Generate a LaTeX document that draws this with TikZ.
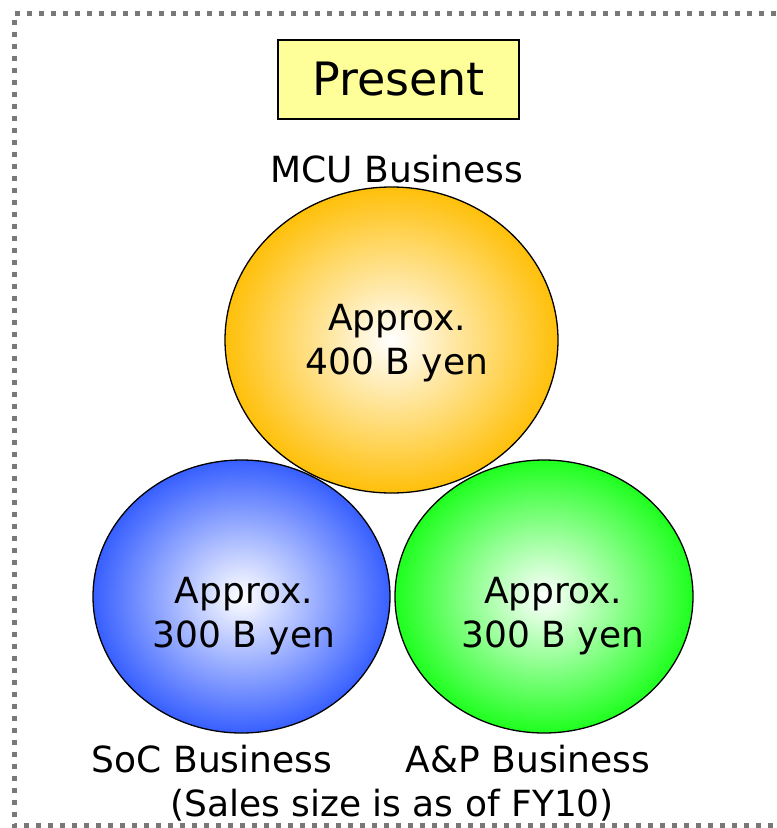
\documentclass[tikz,border=0pt]{standalone}
\usepackage{fontspec}
\setmainfont{DejaVu Sans}
\usetikzlibrary{positioning,shapes.geometric}
\definecolor{mcugold}{RGB}{255,192,10}
\definecolor{socblue}{RGB}{55,95,255}
\definecolor{apgreen}{RGB}{30,255,30}
\definecolor{titleyellow}{RGB}{255,255,153}
\definecolor{framegray}{RGB}{120,120,120}
\tikzset{
	bigtext/.style={
		font=\fontsize{36}{44}\selectfont,
		align=center,
		inner sep=0pt
	},
	bizcircle/.style={
		ellipse,
		draw=black,
		line width=1.3pt,
		shading=radial,
		inner color=white
	},
	titlebox/.style={
		draw=black,
		line width=2pt,
		fill=titleyellow,
		minimum width=241pt,
		minimum height=79pt,
		font=\fontsize{46}{55}\selectfont
	}
}
\begin{document}
\begin{tikzpicture}[x=1pt,y=-1pt]
	\useasboundingbox (0,0) rectangle (777,828);
	
	% Dotted frame
	\draw[framegray,line width=5pt,dash pattern=on 5pt off 7pt]
	(800,13.5) -- (14,13.5) -- (14,825.5) -- (800,825.5);
	
	% Title
	\node[titlebox] (title) at (398.5,79.5) {Present};
	
	% Circles
	\node[bizcircle,outer color=socblue,minimum width=297pt,minimum height=273pt] (soc) at (241.5,596.5) {};
	\node[bizcircle,outer color=apgreen,minimum width=298pt,minimum height=273pt] (ap) at (544,596.5) {};
	\node[bizcircle,outer color=mcugold,minimum width=333pt,minimum height=306pt] (mcu) at (391.5,340) {};
	
	% Sales figures
	\node[bigtext] (mcutext) at (397,343) {Approx.\\400 B yen};
	\node[bigtext] (soctext) at (244,616) {Approx.\\300 B yen};
	\node[bigtext] (aptext) at (553,616) {Approx.\\300 B yen};
	
	% Labels
	\node[bigtext,anchor=base] (mculabel) at (397,182) {MCU Business};
	\node[bigtext,anchor=base] (soclabel) at (212,772) {SoC Business};
	\node[bigtext,anchor=base] (aplabel) at (528,772) {A\&P Business};
	\node[bigtext,anchor=base] (note) at (392,816) {(Sales size is as of FY10)};
	
\end{tikzpicture}
\end{document}
